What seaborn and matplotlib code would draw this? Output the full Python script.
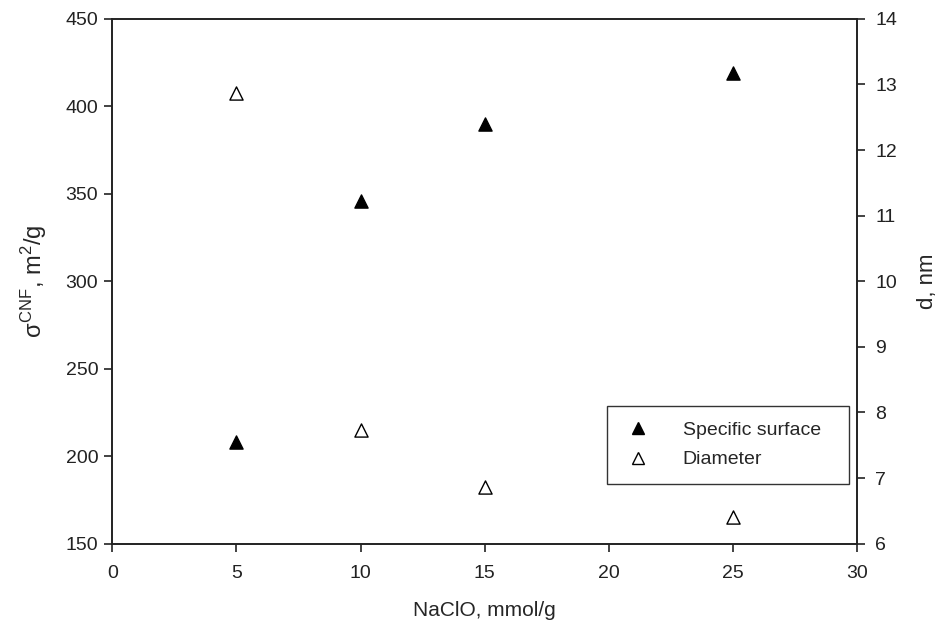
import numpy as np
import pandas as pd
import seaborn as sns
import matplotlib.pyplot as plt
from matplotlib.lines import Line2D

naclo = [5, 10, 15, 25]
surface = [208, 346, 390, 419]
diameter = [12.87, 7.74, 6.86, 6.41]

sns.set_style('ticks')
plt.rcParams['font.family'] = ['Liberation Sans', 'DejaVu Sans']
plt.rcParams['mathtext.fontset'] = 'custom'
plt.rcParams['mathtext.rm'] = 'Liberation Sans'
plt.rcParams['mathtext.it'] = 'Liberation Sans'

df = pd.DataFrame({'naclo': naclo, 'surface': surface, 'diameter': diameter})

fig = plt.figure(figsize=(9.43, 6.3), dpi=100)
ax = fig.add_axes([0.119, 0.137, 0.790, 0.833])
ax2 = ax.twinx()

sns.scatterplot(data=df, x='naclo', y='surface', ax=ax, marker='^', s=90,
                color='black', edgecolor='black', linewidth=1, zorder=3)
sns.scatterplot(data=df, x='naclo', y='diameter', ax=ax2, marker='^', s=90,
                facecolor='white', edgecolor='black', linewidth=1, zorder=3)

ax.set_xlim(0, 30)
ax.set_ylim(150, 450)
ax2.set_ylim(6, 14)
ax.set_xticks(range(0, 31, 5))
ax.set_yticks(range(150, 451, 50))
ax2.set_yticks(range(6, 15, 1))

for a in (ax, ax2):
    for s in a.spines.values():
        s.set_visible(True)
        s.set_linewidth(1.2)
        s.set_color('#222222')
    a.tick_params(direction='out', length=6, width=1.2, labelsize=14, colors='#222222')
ax.tick_params(axis='x', pad=9)
ax.tick_params(axis='y', pad=4)
ax2.tick_params(axis='y', pad=7)

ax.set_xlabel('NaClO, mmol/g', fontsize=15, labelpad=14)
ax.set_ylabel(r'$\sigma^{\rm CNF}$, m$^2$/g', fontsize=17, labelpad=12)
ax2.set_ylabel('d, nm', fontsize=16, labelpad=14)

handles = [
    Line2D([], [], marker='^', linestyle='none', markersize=9,
           markerfacecolor='black', markeredgecolor='black'),
    Line2D([], [], marker='^', linestyle='none', markersize=9,
           markerfacecolor='white', markeredgecolor='black'),
]
leg = ax2.legend(handles, ['Specific surface', 'Diameter'],
                 loc='lower left', bbox_to_anchor=(0.664, 0.114, 0.325, 0.152),
                 mode='expand', borderaxespad=0, fontsize=14, frameon=True,
                 fancybox=False, borderpad=0.8, handletextpad=1.5,
                 labelspacing=0.6, handlelength=1.6)
leg.get_frame().set_edgecolor('black')
leg.get_frame().set_linewidth(1.0)

fig.savefig('out.png', dpi=100)
